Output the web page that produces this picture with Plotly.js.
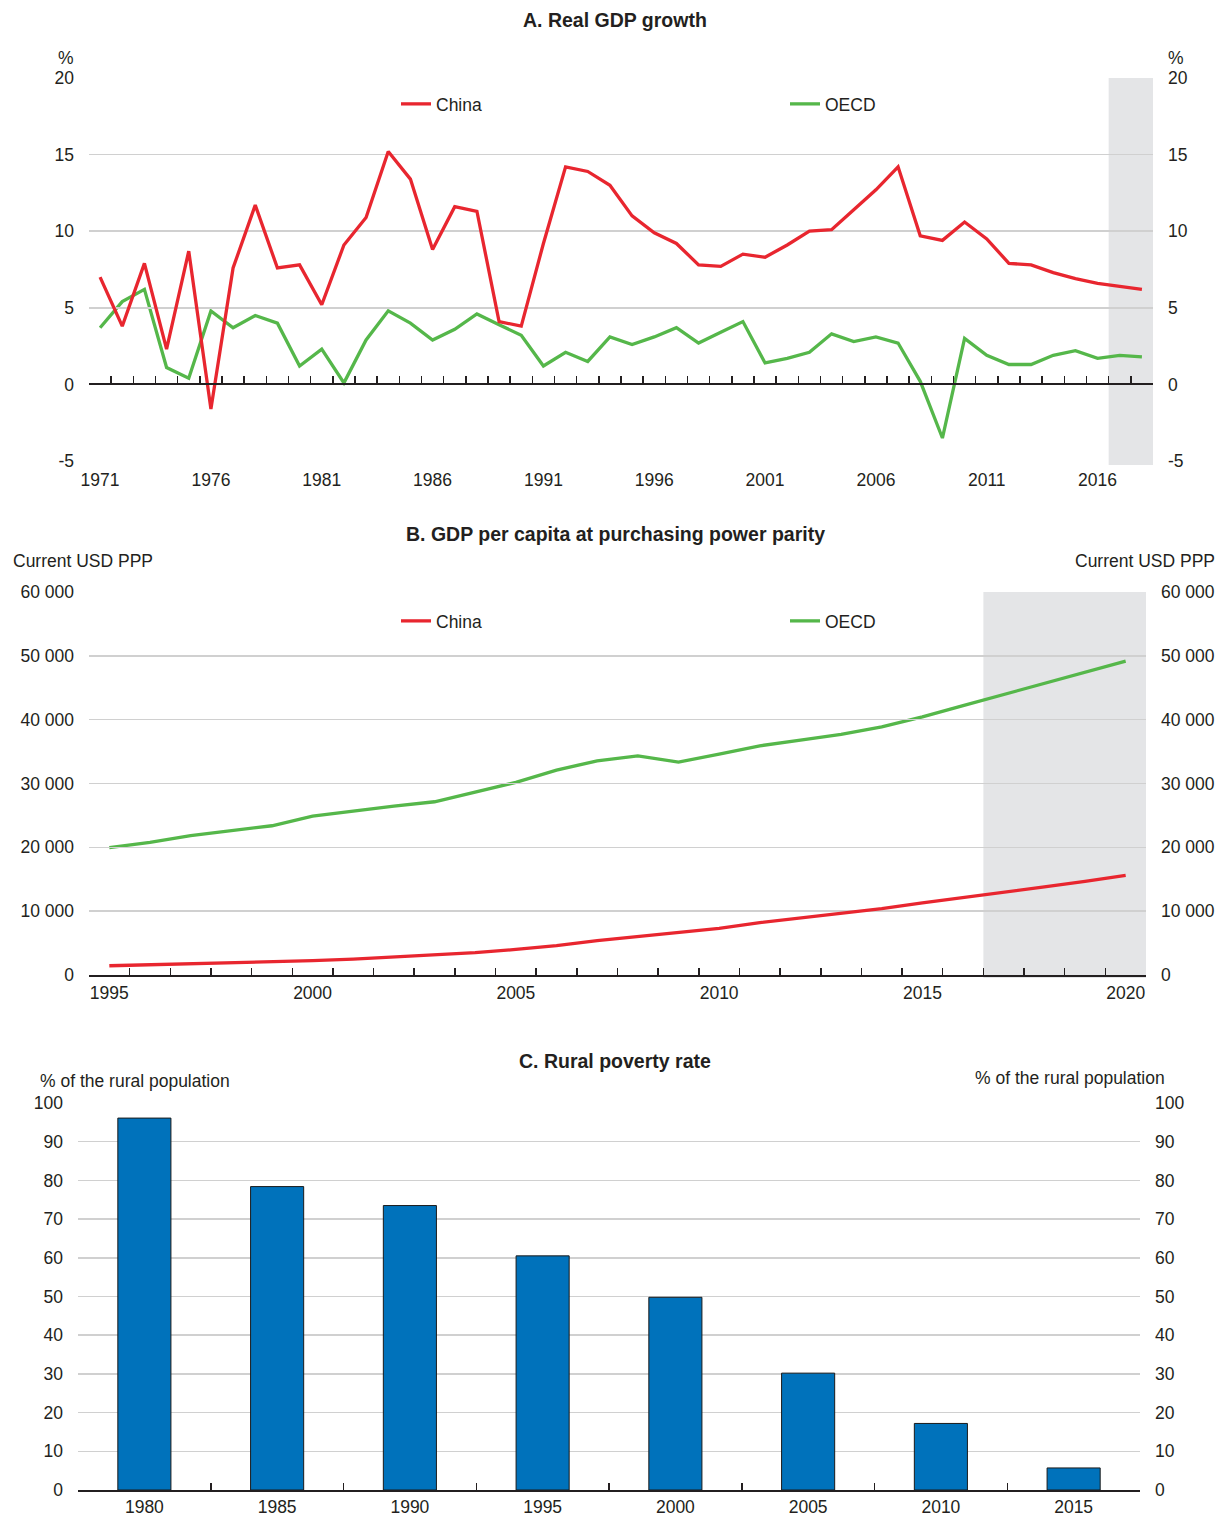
<!DOCTYPE html>
<html>
<head>
<meta charset="utf-8">
<script src="https://cdn.plot.ly/plotly-3.0.1.min.js"></script>
<style>body{margin:0;padding:0;background:#fff;} #chart{width:1227px;height:1517px;}</style>
</head>
<body>
<div id="chart"></div>
<script>
// ---------- Data ----------
var yearsA = [1971,1972,1973,1974,1975,1976,1977,1978,1979,1980,
              1981,1982,1983,1984,1985,1986,1987,1988,1989,1990,
              1991,1992,1993,1994,1995,1996,1997,1998,1999,2000,
              2001,2002,2003,2004,2005,2006,2007,2008,2009,2010,
              2011,2012,2013,2014,2015,2016,2017,2018];
var chinaGrowth = [7.0,3.8,7.9,2.3,8.7,-1.6,7.6,11.7,7.6,7.8,
                   5.2,9.1,10.9,15.2,13.4,8.8,11.6,11.3,4.1,3.8,
                   9.2,14.2,13.9,13.0,11.0,9.9,9.2,7.8,7.7,8.5,
                   8.3,9.1,10.0,10.1,11.4,12.7,14.2,9.7,9.4,10.6,
                   9.5,7.9,7.8,7.3,6.9,6.6,6.4,6.2];
var oecdGrowth = [3.7,5.4,6.2,1.1,0.4,4.8,3.7,4.5,4.0,1.2,
                  2.3,0.1,2.9,4.8,4.0,2.9,3.6,4.6,3.9,3.2,
                  1.2,2.1,1.5,3.1,2.6,3.1,3.7,2.7,3.4,4.1,
                  1.4,1.7,2.1,3.3,2.8,3.1,2.7,0.2,-3.5,3.0,
                  1.9,1.3,1.3,1.9,2.2,1.7,1.9,1.8];
var yTicksA = [-5, 0, 5, 10, 15, 20];
var yTickTextA = ['-5', '0', '5', '10', '15', '20'];

var yearsB = [1995,1996,1997,1998,1999,2000,2001,2002,2003,2004,2005,2006,2007,
              2008,2009,2010,2011,2012,2013,2014,2015,2016,2017,2018,2019,2020];
var chinaGdp = [1450,1600,1750,1900,2050,2250,2500,2800,3100,3500,4000,4600,5400,
                6000,6600,7300,8200,8900,9600,10400,11300,12100,12950,13800,14650,15600];
var oecdGdp = [19940,20770,21820,22550,23380,24900,25730,26460,27140,28650,30170,32100,33560,
               34340,33350,34600,35900,36800,37680,38880,40450,42200,43930,45670,47420,49160];

var povertyYears = ['1980','1985','1990','1995','2000','2005','2010','2015'];
var povertyRate = [96.1,78.4,73.5,60.5,49.8,30.2,17.2,5.7];

var projStartA = 2016.5, projEndA = 2018.5;
var projStartB = 2016.5, projEndB = 2020.5;

// ---------- Styling ----------
var W = 1227, H = 1517;
var FONT = '"Liberation Sans", Arial, sans-serif';
var TXT = '#231f20';
var GRID = '#d0d0d0';
var RED = '#e8262f';
var GREEN = '#55b74a';
var BLUE = '#0072bb';
var SHADE = '#e4e5e7';

function px(x){ return x / W; }
function py(y){ return 1 - y / H; }

var domA = {x:[px(89), px(1153)], y:[py(461), py(78)]};
var domB = {x:[px(89), px(1146)], y:[py(975), py(592)]};
var domC = {x:[px(78), px(1140)], y:[py(1490), py(1103)]};
var rangeA = [-5, 20];
var zeroPosA = domA.y[0] + (0 - rangeA[0]) / (rangeA[1] - rangeA[0]) * (domA.y[1] - domA.y[0]);

var tf = {family: FONT, size: 17.5, color: TXT};
var titleFont = {family: FONT, size: 19.5, color: TXT};

var traces = [
  {x: yearsA, y: chinaGrowth, name: 'China', type: 'scatter', mode: 'lines',
   line: {color: RED, width: 3.3}, xaxis: 'x2', yaxis: 'y', legend: 'legend'},
  {x: yearsA, y: oecdGrowth, name: 'OECD', type: 'scatter', mode: 'lines',
   line: {color: GREEN, width: 3.3}, xaxis: 'x', yaxis: 'y2', legend: 'legend'},
  {x: yearsB, y: chinaGdp, name: 'China', type: 'scatter', mode: 'lines',
   line: {color: RED, width: 3.3}, xaxis: 'x4', yaxis: 'y3', legend: 'legend2'},
  {x: yearsB, y: oecdGdp, name: 'OECD', type: 'scatter', mode: 'lines',
   line: {color: GREEN, width: 3.3}, xaxis: 'x3', yaxis: 'y4', legend: 'legend2'},
  {x: povertyYears, y: povertyRate, type: 'bar', showlegend: false,
   marker: {color: BLUE, line: {color: '#1a1a1a', width: 1}}, width: 0.4,
   xaxis: 'x5', yaxis: 'y5'},
  // carrier for the right-hand axis of panel C (draws nothing)
  {x: povertyYears, y: povertyRate, type: 'scatter', mode: 'none', showlegend: false,
   hoverinfo: 'skip', xaxis: 'x5', yaxis: 'y6'}
];

var baseY = {showgrid: true, gridcolor: GRID, gridwidth: 1.5, zeroline: false, showline: false,
             ticks: '', tickfont: tf, ticklabelstandoff: 14, automargin: false};
var baseYR = {showgrid: false, zeroline: false, showline: false, ticks: '', tickfont: tf,
              side: 'right', ticklabelstandoff: 14, automargin: false};

var layout = {
  width: W, height: H,
  margin: {l: 0, r: 0, t: 0, b: 0, autoexpand: false},
  paper_bgcolor: '#fff', plot_bgcolor: 'rgba(0,0,0,0)',
  font: tf,
  separators: '. ',
  // Panel A
  xaxis: {domain: domA.x, anchor: 'y', range: [1970.5, 2018.5], tick0: 1971, dtick: 5,
          ticks: '', showline: false, showgrid: false, zeroline: false, tickfont: tf,
          ticklabelstandoff: 6, automargin: false},
  xaxis2: {overlaying: 'x', anchor: 'free', position: zeroPosA, range: [1970.5, 2018.5],
           tick0: 1970.5, dtick: 1, ticks: 'inside', ticklen: 7, tickwidth: 1.5, tickcolor: TXT,
           showline: true, linecolor: TXT, linewidth: 2, showticklabels: false,
           showgrid: false, zeroline: false, automargin: false},
  yaxis: Object.assign({}, baseY, {domain: domA.y, anchor: 'x', range: rangeA,
          tickmode: 'array', tickvals: yTicksA, ticktext: yTickTextA}),
  yaxis2: Object.assign({}, baseYR, {overlaying: 'y', anchor: 'x', range: rangeA,
          tickmode: 'array', tickvals: yTicksA, ticktext: yTickTextA}),
  // Panel B
  xaxis3: {domain: domB.x, anchor: 'y3', range: [1994.5, 2020.5], tick0: 1995, dtick: 5,
           ticks: '', showline: false, showgrid: false, zeroline: false, tickfont: tf,
           ticklabelstandoff: 5, automargin: false},
  xaxis4: {overlaying: 'x3', anchor: 'y3', range: [1994.5, 2020.5], tick0: 1994.5, dtick: 1,
           ticks: 'inside', ticklen: 7, tickwidth: 1.5, tickcolor: TXT,
           showline: true, linecolor: TXT, linewidth: 2, showticklabels: false,
           showgrid: false, zeroline: false, automargin: false},
  yaxis3: Object.assign({}, baseY, {domain: domB.y, anchor: 'x3', range: [0, 60000], dtick: 10000, tickformat: ',d'}),
  yaxis4: Object.assign({}, baseYR, {overlaying: 'y3', anchor: 'x3', range: [0, 60000], dtick: 10000, tickformat: ',d'}),
  // Panel C
  xaxis5: {domain: domC.x, anchor: 'y5', type: 'category', ticks: 'inside', tickson: 'boundaries',
           ticklen: 7, tickwidth: 1.5, tickcolor: TXT, showline: true, linecolor: TXT, linewidth: 2,
           showgrid: false, zeroline: false, tickfont: tf, automargin: false},
  yaxis5: Object.assign({}, baseY, {domain: domC.y, anchor: 'x5', range: [0, 100], dtick: 10}),
  yaxis6: Object.assign({}, baseYR, {overlaying: 'y5', anchor: 'x5', range: [0, 100], dtick: 10}),
  bargap: 0.6,
  legend: {orientation: 'h', x: px(396), y: py(104), xanchor: 'left', yanchor: 'middle',
           entrywidth: 344, entrywidthmode: 'pixels', font: tf, bgcolor: 'rgba(0,0,0,0)',
           traceorder: 'normal'},
  legend2: {orientation: 'h', x: px(396), y: py(621), xanchor: 'left', yanchor: 'middle',
            entrywidth: 344, entrywidthmode: 'pixels', font: tf, bgcolor: 'rgba(0,0,0,0)',
            traceorder: 'normal'},
  shapes: [
    {type: 'rect', xref: 'x', yref: 'paper', x0: projStartA, x1: projEndA,
     y0: domA.y[0] - 4/H, y1: domA.y[1], fillcolor: SHADE, line: {width: 0}, layer: 'below'},
    {type: 'rect', xref: 'x3', yref: 'paper', x0: projStartB, x1: projEndB,
     y0: domB.y[0] - 3/H, y1: domB.y[1], fillcolor: SHADE, line: {width: 0}, layer: 'below'}
  ],
  annotations: [
    {text: '<b>A. Real GDP growth</b>', x: px(615), y: py(20), xref: 'paper', yref: 'paper',
     showarrow: false, xanchor: 'center', yanchor: 'middle', font: titleFont},
    {text: '<b>B. GDP per capita at purchasing power parity</b>', x: px(615), y: py(534), xref: 'paper', yref: 'paper',
     showarrow: false, xanchor: 'center', yanchor: 'middle', font: titleFont},
    {text: '<b>C. Rural poverty rate</b>', x: px(615), y: py(1061), xref: 'paper', yref: 'paper',
     showarrow: false, xanchor: 'center', yanchor: 'middle', font: titleFont},
    {text: '%', x: px(66), y: py(58), xref: 'paper', yref: 'paper', showarrow: false,
     xanchor: 'center', yanchor: 'middle', font: tf},
    {text: '%', x: px(1176), y: py(58), xref: 'paper', yref: 'paper', showarrow: false,
     xanchor: 'center', yanchor: 'middle', font: tf},
    {text: 'Current USD PPP', x: px(11), y: py(561), xref: 'paper', yref: 'paper', showarrow: false,
     xanchor: 'left', yanchor: 'middle', font: tf},
    {text: 'Current USD PPP', x: px(1217), y: py(561), xref: 'paper', yref: 'paper', showarrow: false,
     xanchor: 'right', yanchor: 'middle', font: tf},
    {text: '% of the rural population', x: px(38), y: py(1081), xref: 'paper', yref: 'paper', showarrow: false,
     xanchor: 'left', yanchor: 'middle', font: tf},
    {text: '% of the rural population', x: px(1167), y: py(1078), xref: 'paper', yref: 'paper', showarrow: false,
     xanchor: 'right', yanchor: 'middle', font: tf}
  ]
};

Plotly.newPlot('chart', traces, layout, {displayModeBar: false, staticPlot: true});
</script>
</body>
</html>
